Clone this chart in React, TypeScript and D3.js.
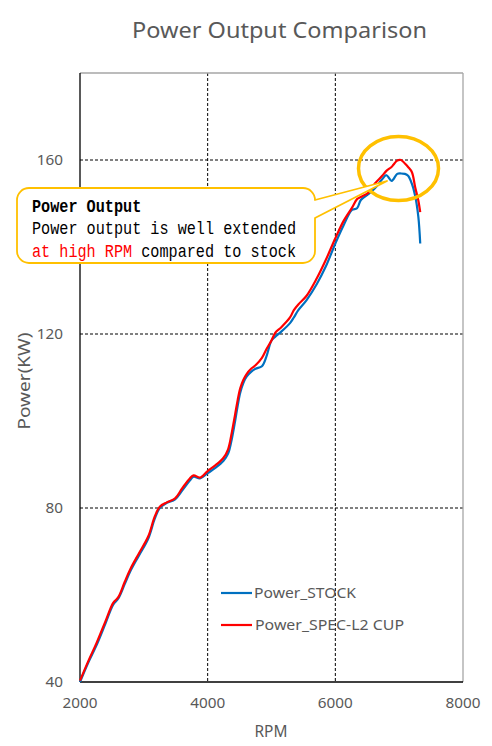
import React from "react";
import * as d3 from "d3";

const rpm = [2000, 2130, 2260, 2400, 2520, 2600, 2700, 2790, 2920, 3070, 3170, 3250, 3360, 3490, 3600, 3720, 3780, 3880, 4000, 4120, 4245, 4320, 4380, 4430, 4470, 4510, 4560, 4610, 4680, 4750, 4850, 4920, 5000, 5060, 5150, 5290, 5350, 5420, 5550, 5710, 5850, 6000, 6130, 6260, 6340, 6400, 6520, 6620, 6730, 6800, 6880, 6910, 6970, 7030, 7090, 7140, 7200, 7250, 7300, 7330];

const powerStock = [40, 44.5, 48.5, 53.5, 57.8, 59.2, 62.5, 65.5, 69, 73, 77.5, 80, 81.2, 82, 84, 86.3, 87.2, 86.8, 88, 89.2, 90.8, 92.5, 96, 100, 103.5, 106.5, 108.8, 110.2, 111.3, 112, 112.6, 114.8, 118.5, 119.4, 120.5, 122.5, 123.8, 125.5, 127.8, 131.5, 135.5, 140.8, 145, 148.5, 148.9, 150.8, 152.2, 153.5, 155.5, 156.5, 155.2, 155.6, 156.8, 156.9, 156.8, 156.4, 154.5, 151.8, 147, 140.8];

const powerSpec = [40.3, 44.8, 49, 54, 58.2, 59.5, 63, 66, 69.5, 73.5, 78, 80.3, 81.3, 82.2, 84.5, 86.8, 87.5, 87, 88.5, 89.8, 91.5, 93.5, 97.5, 101.5, 104.8, 107.5, 109.5, 110.8, 112, 112.8, 114.5, 116.5, 118.5, 120.3, 121.5, 123.8, 125.5, 126.8, 128.8, 132.8, 137, 142, 146, 149, 151, 151.5, 152.5, 154.6, 156.3, 157.5, 158.4, 158.9, 159.9, 160, 159.2, 158.4, 157.2, 153.8, 150.7, 148];

const xTicks = [2000, 4000, 6000, 8000];
const yTicks = [40, 80, 120, 160];
const seriesNames = ["Power_STOCK", "Power_SPEC-L2 CUP"];
const seriesColors = ["#0070C0", "#FF0000"];
const calloutTitle = "Power Output";
const calloutLine1 = "Power output is well extended";
const calloutLine2Red = "at high RPM";
const calloutLine2Black = "compared to stock";

const W = 492, H = 746;
const L = 80, R = 463, T = 73, B = 682;
const font = "'Noto Sans', 'DejaVu Sans', sans-serif";
const mono = "'Liberation Mono', 'DejaVu Sans Mono', monospace";
const gray = "#595959";
const orange = "#FFC000";

export default function App() {
  const x = d3.scaleLinear().domain([2000, 8000]).range([L, R]);
  const y = d3.scaleLinear().domain([40, 180]).range([B, T]);
  const line = d3
    .line<number>()
    .x((_, i) => x(rpm[i]))
    .y((d) => y(d))
    .curve(d3.curveCatmullRom.alpha(0.5));
  const series = [powerStock, powerSpec];

  const bx0 = 17, by0 = 188, bx1 = 315, by1 = 263, r = 12;
  const tipX = 387, tipY = 181;
  const wy0 = 200, wy1 = 218;
  const calloutPath = [
    `M${bx0 + r},${by0}`,
    `H${bx1 - r}`,
    `A${r},${r} 0 0 1 ${bx1},${by0 + r}`,
    `V${wy0}`,
    `L${tipX},${tipY}`,
    `L${bx1},${wy1}`,
    `V${by1 - r}`,
    `A${r},${r} 0 0 1 ${bx1 - r},${by1}`,
    `H${bx0 + r}`,
    `A${r},${r} 0 0 1 ${bx0},${by1 - r}`,
    `V${by0 + r}`,
    `A${r},${r} 0 0 1 ${bx0 + r},${by0}`,
    "Z",
  ].join(" ");

  const charW = 264 / 29;
  const tickW = (s: string) => s.length * 8.75;

  return (
    <svg width={W} height={H} style={{ position: "absolute", left: 0, top: 0, background: "#fff" }}>
      <rect x={0} y={0} width={W} height={H} fill="#fff" />
      <text x={132} y={38} fontFamily={font} fontSize={21} fill={gray} textLength={295} lengthAdjust="spacingAndGlyphs">
        Power Output Comparison
      </text>

      {xTicks.slice(1, -1).map((t) => (
        <line key={"gx" + t} x1={x(t)} x2={x(t)} y1={T} y2={B} stroke="#000" strokeWidth={1} strokeDasharray="3,2" />
      ))}
      {yTicks.slice(1).map((t) => (
        <line key={"gy" + t} x1={L} x2={R} y1={y(t)} y2={y(t)} stroke="#000" strokeWidth={1} strokeDasharray="3,2" />
      ))}

      <line x1={L} x2={R} y1={T} y2={T} stroke="#A6A6A6" strokeWidth={1.3} />
      <line x1={R} x2={R} y1={T} y2={B} stroke="#A6A6A6" strokeWidth={1.3} />
      <line x1={L} x2={L} y1={T} y2={B} stroke="#000" strokeWidth={1.3} />
      <line x1={L} x2={R} y1={B} y2={B} stroke="#000" strokeWidth={1.3} />

      {yTicks.map((t) => (
        <text key={"yl" + t} x={63} y={y(t)} dy="0.36em" textAnchor="end" fontFamily={font} fontSize={15} fill={gray} textLength={tickW(String(t))} lengthAdjust="spacingAndGlyphs">
          {t}
        </text>
      ))}
      {xTicks.map((t) => (
        <text key={"xl" + t} x={x(t)} y={708} textAnchor="middle" fontFamily={font} fontSize={15} fill={gray} textLength={tickW(String(t))} lengthAdjust="spacingAndGlyphs">
          {t}
        </text>
      ))}
      <text x={271} y={737} textAnchor="middle" fontFamily={font} fontSize={16} fill={gray} textLength={33} lengthAdjust="spacingAndGlyphs">
        RPM
      </text>
      <text transform="translate(30,381) rotate(-90)" textAnchor="middle" fontFamily={font} fontSize={16} fill={gray} textLength={97} lengthAdjust="spacingAndGlyphs">
        Power(KW)
      </text>

      {series.map((s, i) => (
        <path key={"s" + i} d={line(s) || ""} fill="none" stroke={seriesColors[i]} strokeWidth={2.2} strokeLinejoin="round" />
      ))}

      {seriesNames.map((n, i) => (
        <g key={"lg" + i}>
          <line x1={221} x2={252} y1={593 + i * 32} y2={593 + i * 32} stroke={seriesColors[i]} strokeWidth={2.2} />
          <text x={254 + i} y={593 + i * 32} dy="0.36em" fontFamily={font} fontSize={15} fill={gray} textLength={i === 0 ? 102 : 149} lengthAdjust="spacingAndGlyphs">
            {n}
          </text>
        </g>
      ))}

      <ellipse cx={398.5} cy={168.5} rx={40} ry={32} fill="none" stroke={orange} strokeWidth={3.5} />

      <path d={calloutPath} fill="#fff" stroke={orange} strokeWidth={1.8} strokeLinejoin="round" />
      <text x={32} y={212} fontFamily={mono} fontSize={18} fontWeight="bold" fill="#000" textLength={calloutTitle.length * charW} lengthAdjust="spacingAndGlyphs">
        {calloutTitle}
      </text>
      <text x={32} y={234} fontFamily={mono} fontSize={18} fill="#000" textLength={calloutLine1.length * charW} lengthAdjust="spacingAndGlyphs">
        {calloutLine1}
      </text>
      <text x={32} y={257} fontFamily={mono} fontSize={18} fill="#FF0000" textLength={calloutLine2Red.length * charW} lengthAdjust="spacingAndGlyphs">
        {calloutLine2Red}
      </text>
      <text x={32 + (calloutLine2Red.length + 1) * charW} y={257} fontFamily={mono} fontSize={18} fill="#000" textLength={calloutLine2Black.length * charW} lengthAdjust="spacingAndGlyphs">
        {calloutLine2Black}
      </text>
    </svg>
  );
}
